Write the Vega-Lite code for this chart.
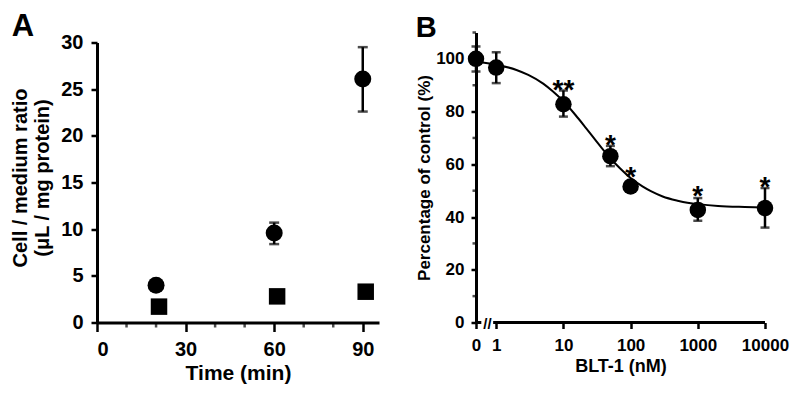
{
  "$schema": "https://vega.github.io/schema/vega-lite/v6.json",
  "background": "white",
  "padding": {"left": 10, "top": 10.5, "right": 5, "bottom": 5},
  "spacing": 36,
  "config": {
    "font": "Liberation Sans",
    "view": {"stroke": null},
    "axis": {
      "grid": false,
      "domainColor": "black",
      "tickColor": "black",
      "labelColor": "black",
      "titleColor": "black",
      "labelFont": "Liberation Sans",
      "titleFont": "Liberation Sans",
      "labelFontWeight": "bold",
      "titleFontWeight": "bold",
      "domainWidth": 3,
      "tickWidth": 2.5
    },
    "title": {"font": "Liberation Sans", "color": "black", "fontWeight": "bold"}
  },
  "datasets": {
    "aCircle": [
      {"time": 20, "ratio": 4.0},
      {"time": 60, "ratio": 9.6},
      {"time": 90, "ratio": 26.1}
    ],
    "aSquare": [
      {"time": 21, "ratio": 1.7},
      {"time": 61, "ratio": 2.8},
      {"time": 91, "ratio": 3.3}
    ],
    "aErr": [
      {"time": 60, "lo": 8.4, "hi": 10.7},
      {"time": 90, "lo": 22.6, "hi": 29.5}
    ],
    "aMinor": [{"time": 10}, {"time": 20}, {"time": 40}, {"time": 50}, {"time": 70}, {"time": 80}],
    "bPts": [
      {"conc": 0.5, "pct": 100, "lo": 95.2, "hi": 104.7},
      {"conc": 1, "pct": 96.7, "lo": 90.8, "hi": 102.5},
      {"conc": 10, "pct": 82.8, "lo": 78.1, "hi": 88.0},
      {"conc": 50, "pct": 63.1, "lo": 59.3, "hi": 67.0},
      {"conc": 100, "pct": 51.6, "lo": 50.2, "hi": 53.0},
      {"conc": 1000, "pct": 42.7, "lo": 38.6, "hi": 47.2},
      {"conc": 10000, "pct": 43.4, "lo": 36.0, "hi": 51.0}
    ],
    "bMinor": [{"pct": 10}, {"pct": 30}, {"pct": 50}, {"pct": 70}, {"pct": 90}, {"pct": 110}],
    "bFit": [
      {"conc": 0.5, "pct": 98.9}, {"conc": 1, "pct": 97.8}, {"conc": 2, "pct": 95.8},
      {"conc": 3, "pct": 93.9}, {"conc": 5, "pct": 90.6}, {"conc": 7, "pct": 87.6},
      {"conc": 10, "pct": 83.9}, {"conc": 15, "pct": 78.8}, {"conc": 20, "pct": 74.9},
      {"conc": 30, "pct": 69.2}, {"conc": 40, "pct": 65.2}, {"conc": 50, "pct": 62.3},
      {"conc": 70, "pct": 58.4}, {"conc": 100, "pct": 54.8}, {"conc": 150, "pct": 51.6},
      {"conc": 200, "pct": 49.8}, {"conc": 300, "pct": 47.8}, {"conc": 500, "pct": 46.2},
      {"conc": 700, "pct": 45.4}, {"conc": 1000, "pct": 44.9}, {"conc": 2000, "pct": 44.2},
      {"conc": 5000, "pct": 43.8}, {"conc": 10000, "pct": 43.6}
    ],
    "bStars": [
      {"conc": 10, "pos": 91.0, "label": "**"},
      {"conc": 50, "pos": 69.9, "label": "*"},
      {"conc": 100, "pos": 57.9, "label": "*"},
      {"conc": 1000, "pos": 50.6, "label": "*"},
      {"conc": 10000, "pos": 54.1, "label": "*"}
    ],
    "bBreak": [
      {"from": 0.5, "to": 0.6},
      {"from": 0.9, "to": 10000}
    ],
    "bBreakMark": [{"conc": 0.74, "label": "//"}]
  },
  "hconcat": [
    {
      "width": 282,
      "height": 290,
      "title": {"text": "A", "anchor": "start", "frame": "bounds", "fontSize": 31, "baseline": "alphabetic", "offset": -35, "dx": 1},
      "layer": [
        {
          "data": {"name": "aErr"},
          "mark": {"type": "rule", "color": "black", "strokeWidth": 2.5},
          "encoding": {
            "x": {"field": "time", "type": "quantitative", "scale": {"domain": [0, 95.5], "nice": false},
              "axis": {"values": [0, 30, 60, 90], "tickSize": 9, "labelFontSize": 20, "labelPadding": 8, "labelOverlap": false,
                "title": "Time (min)", "titleFontSize": 21, "titlePadding": 3}},
            "y": {"field": "lo", "type": "quantitative", "scale": {"domain": [0, 31.07], "nice": false},
              "axis": {"values": [0, 5, 10, 15, 20, 25, 30], "domainDash": [280, 40], "tickSize": 6, "labelFontSize": 20, "labelPadding": 8,
                "title": ["Cell / medium ratio", "(μL / mg protein)"], "titleFontSize": 20, "titleLineHeight": 22, "titlePadding": 8}},
            "y2": {"field": "hi"}
          }
        },
        {
          "data": {"name": "aMinor"},
          "mark": {"type": "tick", "orient": "vertical", "color": "black", "size": 5, "thickness": 2.5, "yOffset": 2.5},
          "encoding": {
            "x": {"field": "time", "type": "quantitative"},
            "y": {"datum": 0, "type": "quantitative"}
          }
        },
        {
          "data": {"name": "aErr"},
          "mark": {"type": "tick", "orient": "horizontal", "color": "black", "size": 10, "thickness": 2.5},
          "encoding": {
            "x": {"field": "time", "type": "quantitative"},
            "y": {"field": "hi", "type": "quantitative"}
          }
        },
        {
          "data": {"name": "aErr"},
          "mark": {"type": "tick", "orient": "horizontal", "color": "black", "size": 10, "thickness": 2.5},
          "encoding": {
            "x": {"field": "time", "type": "quantitative"},
            "y": {"field": "lo", "type": "quantitative"}
          }
        },
        {
          "data": {"name": "aCircle"},
          "mark": {"type": "point", "shape": "circle", "filled": true, "color": "black", "opacity": 1, "size": 289},
          "encoding": {
            "x": {"field": "time", "type": "quantitative"},
            "y": {"field": "ratio", "type": "quantitative"}
          }
        },
        {
          "data": {"name": "aSquare"},
          "mark": {"type": "point", "shape": "square", "filled": true, "color": "black", "opacity": 1, "size": 272},
          "encoding": {
            "x": {"field": "time", "type": "quantitative"},
            "y": {"field": "ratio", "type": "quantitative"}
          }
        }
      ]
    },
    {
      "width": 289,
      "height": 290,
      "title": {"text": "B", "anchor": "start", "frame": "bounds", "fontSize": 29, "baseline": "alphabetic", "offset": -35},
      "layer": [
        {
          "data": {"name": "bPts"},
          "mark": {"type": "rule", "color": "black", "strokeWidth": 2.5},
          "encoding": {
            "x": {"field": "conc", "type": "quantitative", "scale": {"type": "log", "domain": [0.5, 10000], "nice": false},
              "axis": {"values": [0.5, 1, 10, 100, 1000, 10000], "labelExpr": "datum.value < 0.9 ? '0' : format(datum.value, 'd')",
                "domain": false, "tickSize": 6, "labelFontSize": 17, "labelPadding": 9, "labelFlush": false, "labelOverlap": false,
                "title": "BLT-1 (nM)", "titleFontSize": 18, "titlePadding": 4}},
            "y": {"field": "lo", "type": "quantitative", "scale": {"domain": [0, 110], "nice": false},
              "axis": {"values": [0, 20, 40, 60, 80, 100], "tickSize": 5, "labelFontSize": 17, "labelPadding": 7,
                "title": "Percentage of control (%)", "titleFontSize": 17, "titlePadding": 2}},
            "y2": {"field": "hi"}
          }
        },
        {
          "data": {"name": "bMinor"},
          "mark": {"type": "tick", "orient": "horizontal", "color": "black", "size": 3.5, "thickness": 2.5, "xOffset": -1.75},
          "encoding": {
            "x": {"datum": 0.5, "type": "quantitative"},
            "y": {"field": "pct", "type": "quantitative"}
          }
        },
        {
          "data": {"name": "bPts"},
          "mark": {"type": "tick", "orient": "horizontal", "color": "black", "size": 9, "thickness": 2.5},
          "encoding": {
            "x": {"field": "conc", "type": "quantitative"},
            "y": {"field": "hi", "type": "quantitative"}
          }
        },
        {
          "data": {"name": "bPts"},
          "mark": {"type": "tick", "orient": "horizontal", "color": "black", "size": 9, "thickness": 2.5},
          "encoding": {
            "x": {"field": "conc", "type": "quantitative"},
            "y": {"field": "lo", "type": "quantitative"}
          }
        },
        {
          "data": {"name": "bFit"},
          "mark": {"type": "line", "color": "black", "strokeWidth": 2, "interpolate": "monotone"},
          "encoding": {
            "x": {"field": "conc", "type": "quantitative"},
            "y": {"field": "pct", "type": "quantitative"}
          }
        },
        {
          "data": {"name": "bPts"},
          "mark": {"type": "point", "shape": "circle", "filled": true, "color": "black", "opacity": 1, "size": 272},
          "encoding": {
            "x": {"field": "conc", "type": "quantitative"},
            "y": {"field": "pct", "type": "quantitative"}
          }
        },
        {
          "data": {"name": "bStars"},
          "mark": {"type": "text", "color": "black", "fontSize": 28, "fontWeight": "bold", "baseline": "alphabetic", "align": "center", "dy": 16},
          "encoding": {
            "x": {"field": "conc", "type": "quantitative"},
            "y": {"field": "pos", "type": "quantitative"},
            "text": {"field": "label"}
          }
        },
        {
          "data": {"name": "bBreak"},
          "mark": {"type": "rule", "color": "black", "strokeWidth": 3},
          "encoding": {
            "x": {"field": "from", "type": "quantitative"},
            "x2": {"field": "to"},
            "y": {"datum": 0, "type": "quantitative"}
          }
        },
        {
          "data": {"name": "bBreakMark"},
          "mark": {"type": "text", "color": "black", "fontSize": 15, "fontWeight": "bold", "baseline": "middle", "align": "center", "dy": 1},
          "encoding": {
            "x": {"field": "conc", "type": "quantitative"},
            "y": {"datum": 0, "type": "quantitative"},
            "text": {"field": "label"}
          }
        }
      ]
    }
  ]
}
